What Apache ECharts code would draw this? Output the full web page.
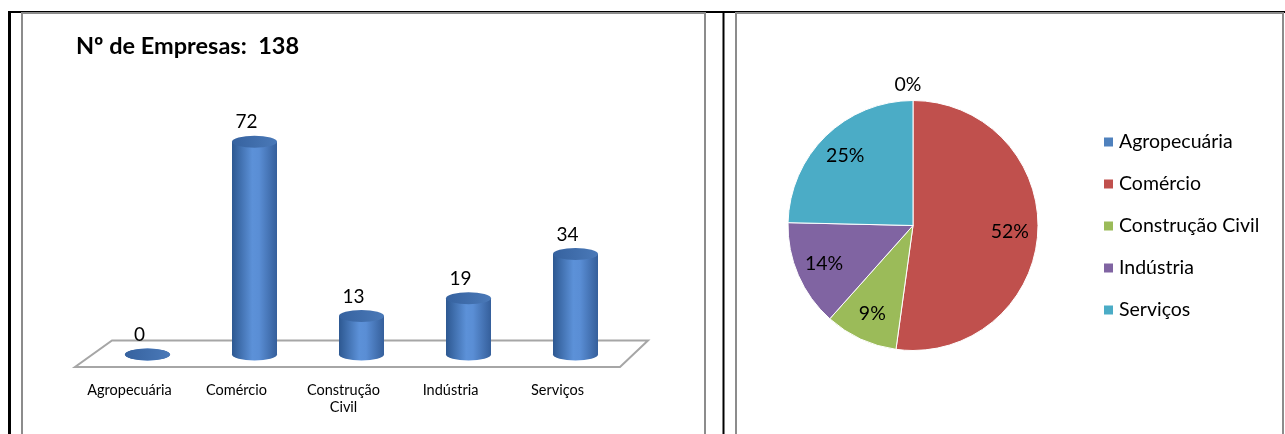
<!DOCTYPE html>
<html>
<head>
<meta charset="utf-8">
<script src="https://cdn.jsdelivr.net/npm/echarts@6/dist/echarts.min.js"></script>
<style>
html,body{margin:0;padding:0;background:#fff;}
#c{width:1285px;height:434px;}
</style>
</head>
<body>
<div id="c"></div>
<script>
const categories = ['Agropecuária', 'Comércio', 'Construção\nCivil', 'Indústria', 'Serviços'];
const legendNames = ['Agropecuária', 'Comércio', 'Construção Civil', 'Indústria', 'Serviços'];
const companies = [0, 72, 13, 19, 34];
const pieColors = ['#4f81bd', '#c0504d', '#9bbb59', '#8064a2', '#4bacc6'];
const titleLabel = 'Nº de Empresas:  ';

const total = companies.reduce((a, b) => a + b, 0);
const FONT = 'Lato, "Liberation Sans", sans-serif';

const chart = echarts.init(document.getElementById('c'), null, {renderer: 'canvas'});

const bodyGrad = new echarts.graphic.LinearGradient(0, 0, 1, 0, [
  {offset: 0, color: '#2d5891'},
  {offset: 0.45, color: '#5c91d8'},
  {offset: 0.6, color: '#5a8ed5'},
  {offset: 1, color: '#355f9b'}
]);
const topGrad = new echarts.graphic.LinearGradient(0, 0, 1, 0, [
  {offset: 0, color: '#36629f'},
  {offset: 1, color: '#4a79b8'}
]);

const pieData = legendNames.map((n, i) => ({
  name: n, value: companies[i],
  itemStyle: {color: pieColors[i]},
  label: {show: companies[i] === 0}
}));
const ghostData = legendNames.map((n, i) => ({
  name: n, value: companies[i],
  label: {show: companies[i] !== 0}
}));

const option = {
  animation: false,
  backgroundColor: '#fff',
  textStyle: {fontFamily: FONT},
  graphic: [
    {type: 'line', shape: {x1: 9.5, y1: 12, x2: 9.5, y2: 434}, style: {stroke: '#000', lineWidth: 3}, z: 0},
    {type: 'line', shape: {x1: 8, y1: 12, x2: 1285, y2: 12}, style: {stroke: '#000', lineWidth: 2}, z: 0},
    {type: 'line', shape: {x1: 723.5, y1: 12, x2: 723.5, y2: 434}, style: {stroke: '#000', lineWidth: 2}, z: 0},
    {type: 'rect', shape: {x: 22, y: 13, width: 683, height: 430}, style: {fill: 'none', stroke: '#8c8c8c', lineWidth: 2}, z: 1},
    {type: 'rect', shape: {x: 736, y: 13, width: 547, height: 430}, style: {fill: 'none', stroke: '#8c8c8c', lineWidth: 2}, z: 1},
    {type: 'polygon', shape: {points: [[112, 340.5], [648, 340.5], [620, 367], [75, 367]]},
      style: {fill: '#fff', stroke: '#a6a6a6', lineWidth: 2}, z: 2}
  ],
  title: {
    text: titleLabel + total,
    left: 71, top: 29,
    textStyle: {fontFamily: FONT, fontSize: 23.5, fontWeight: 'bold', color: '#000'}
  },
  legend: {
    data: legendNames,
    orient: 'vertical',
    left: 1097, top: 127,
    icon: 'rect',
    itemWidth: 11, itemHeight: 11,
    itemGap: 22,
    selectedMode: false,
    textStyle: {fontFamily: FONT, fontSize: 19.5, color: '#000'}
  },
  grid: {left: 94, width: 535, top: 118, bottom: 79.5},
  xAxis: {
    type: 'category',
    data: categories,
    z: 10,
    axisLine: {show: false},
    axisTick: {show: false},
    axisLabel: {
      interval: 0, margin: 27, fontSize: 14.5, color: '#000', fontFamily: FONT,
      lineHeight: 17.5, padding: [0, 36, 0, 0]
    }
  },
  yAxis: {type: 'value', min: 0, max: 80, show: false, splitLine: {show: false}},
  series: [
    {
      type: 'pictorialBar', name: 'base', data: companies,
      symbol: 'circle', symbolSize: [45, 12], symbolPosition: 'start', symbolOffset: [0, '50%'],
      itemStyle: {color: bodyGrad}, z: 3, silent: true
    },
    {
      type: 'bar', name: 'Empresas', data: companies, barWidth: 45,
      itemStyle: {color: bodyGrad}, z: 4,
      label: {show: true, position: 'top', distance: 10, offset: [-8, 0], fontSize: 19, color: '#000', fontFamily: FONT}
    },
    {
      type: 'pictorialBar', name: 'top', data: companies,
      symbol: 'circle', symbolSize: [45, 12], symbolPosition: 'end', symbolOffset: [0, '-50%'],
      itemStyle: {color: topGrad}, z: 5, silent: true
    },
    {
      type: 'pie', name: 'pie', center: [913, 225.5], radius: 125,
      startAngle: 90, clockwise: true,
      data: pieData,
      itemStyle: {borderColor: '#fff', borderWidth: 1},
      label: {position: 'outside', fontSize: 19.5, color: '#000', fontFamily: FONT,
        formatter: p => Math.round(p.percent) + '%'},
      labelLine: {show: false, length: 16, length2: 0},
      labelLayout: {align: 'center'},
      z: 5
    },
    {
      type: 'pie', name: 'ghost', center: [913, 225.5], radius: 188,
      startAngle: 90, clockwise: true, silent: true,
      data: ghostData,
      itemStyle: {color: 'rgba(0,0,0,0)', borderWidth: 0},
      label: {position: 'inside', fontSize: 19.5, color: '#000', fontFamily: FONT,
        formatter: p => Math.round(p.percent) + '%'},
      labelLine: {show: false},
      legendHoverLink: false,
      z: 6
    }
  ]
};
chart.setOption(option);
</script>
</body>
</html>
